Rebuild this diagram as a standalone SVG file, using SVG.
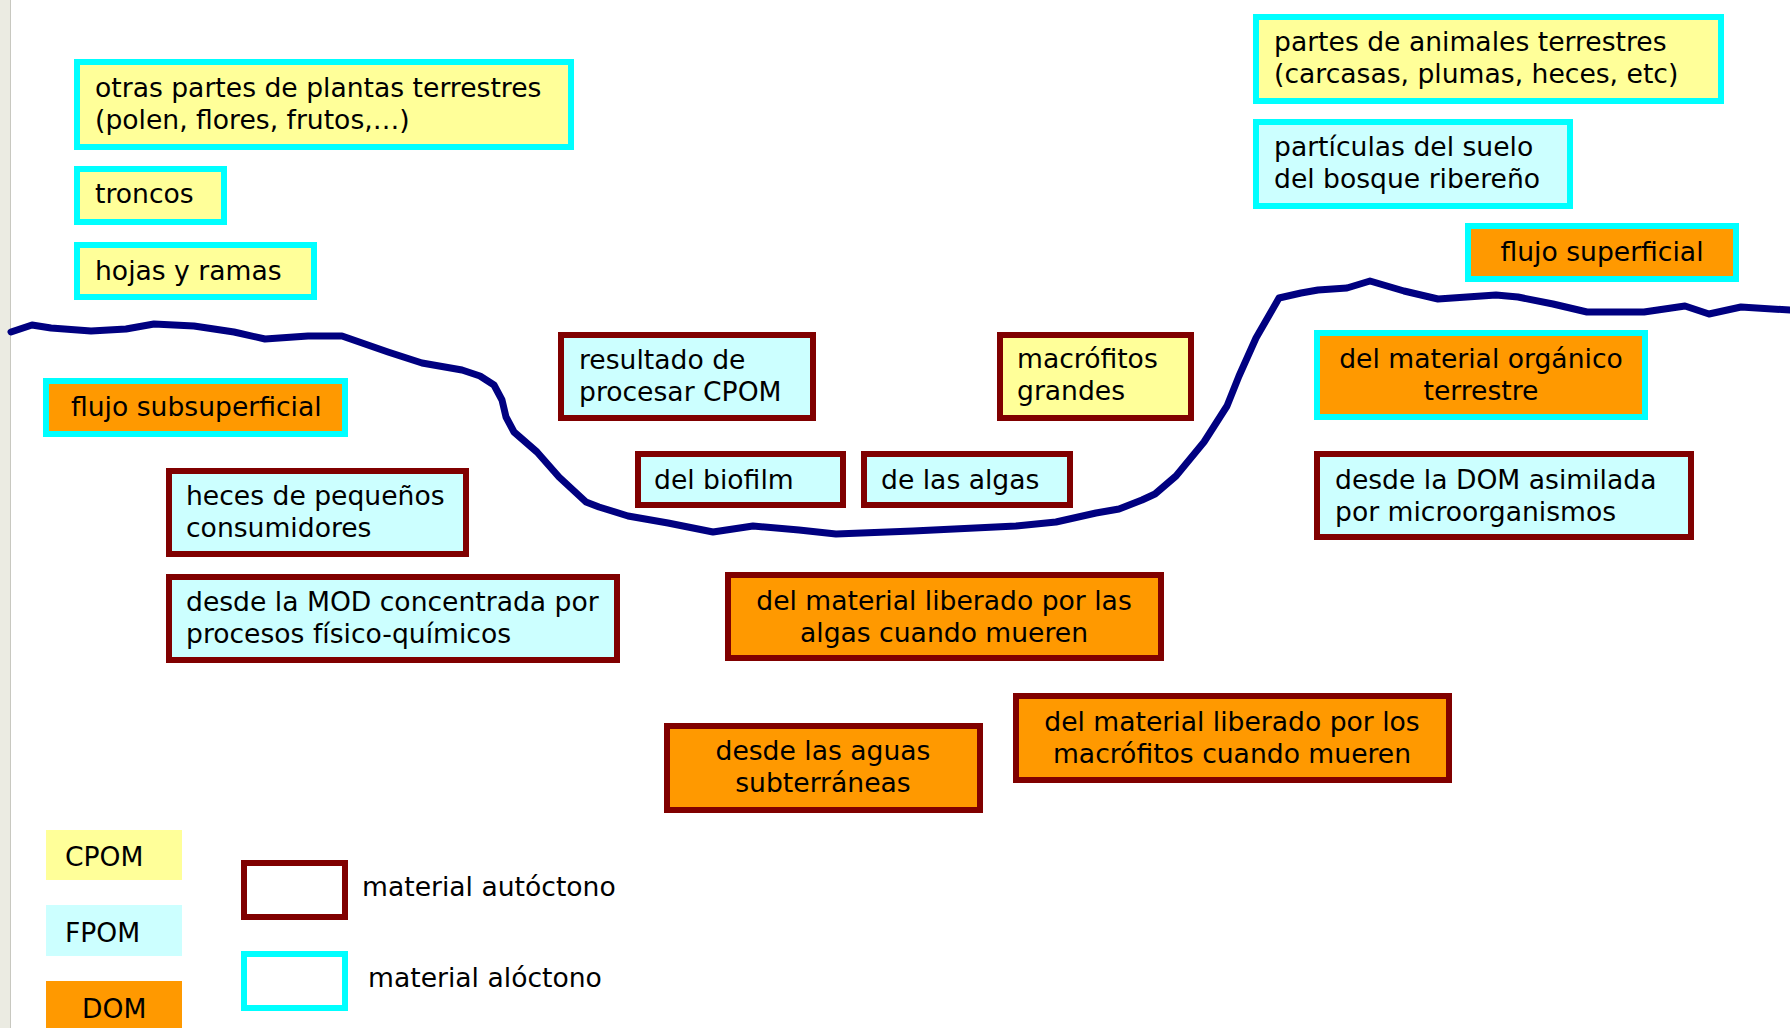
<svg xmlns="http://www.w3.org/2000/svg" width="1790" height="1028" viewBox="0 0 1790 1028">
  <style>
    text { font-family: "DejaVu Sans", Verdana, sans-serif; font-size: 26.6px; fill: #000; }
    .mid { text-anchor: middle; }
    .cpom { fill: #ffff99; }
    .fpom { fill: #ccffff; }
    .dom { fill: #ff9900; }
    .none { fill: none; }
    .alo { stroke: #00ffff; stroke-width: 6; }
    .auto { stroke: #800000; stroke-width: 6; }
    .river { fill: none; stroke: #000080; stroke-width: 7; stroke-linejoin: round; stroke-linecap: round; }
  </style>

  <rect x="0" y="0" width="1790" height="1028" fill="#ffffff"/>
  <!-- window edge strip -->
  <rect x="0" y="0" width="10" height="1028" fill="#ebebe2"/>
  <line x1="10.5" y1="0" x2="10.5" y2="1028" stroke="#c8c8c0" stroke-width="1"/>

  <!-- river bed profile -->
  <g id="river">
    <path class="river" d="M11,332 L32,325 L51,328 L91,331 L126,329 L154,324 L194,326 L234,332 L265,339 L308,336 L342,336 L388,352 L422,363 L462,370 L480,376 L494,385 L502,400 L506,417 L514,432 L537,452 L559,477 L586,502 L599,507 L628,516 L668,523 L713,532 L753,526 L799,530 L836,534 L913,531 L1016,526 L1056,522 L1096,513 L1119,509 L1142,500 L1155,494 L1176,476 L1204,442 L1227,406 L1239,376 L1256,338 L1279,298 L1301,293 L1318,290 L1347,288 L1370,281 L1404,291 L1438,299 L1496,295 L1518,297 L1553,304 L1587,312 L1644,312 L1685,306 L1709,314 L1741,307 L1790,310"/>
  </g>

  <g id="connectors"/>

  <g id="n-otras-partes">
    <rect class="cpom alo" x="77" y="62" width="494" height="85"/>
    <text x="95" y="97">otras partes de plantas terrestres</text>
    <text x="95" y="129">(polen, flores, frutos,…)</text>
  </g>
  <g id="n-troncos">
    <rect class="cpom alo" x="77" y="169" width="147" height="53"/>
    <text x="95" y="203">troncos</text>
  </g>
  <g id="n-hojas">
    <rect class="cpom alo" x="77" y="245" width="237" height="52"/>
    <text x="95" y="280">hojas y ramas</text>
  </g>
  <g id="n-flujo-subsuperficial">
    <rect class="dom alo" x="46" y="381" width="299" height="53"/>
    <text x="71" y="416">flujo subsuperficial</text>
  </g>
  <g id="n-heces">
    <rect class="fpom auto" x="169" y="471" width="297" height="83"/>
    <text x="186" y="505">heces de pequeños</text>
    <text x="186" y="537">consumidores</text>
  </g>
  <g id="n-mod">
    <rect class="fpom auto" x="169" y="577" width="448" height="83"/>
    <text x="186" y="611">desde la MOD concentrada por</text>
    <text x="186" y="643">procesos físico-químicos</text>
  </g>
  <g id="n-resultado">
    <rect class="fpom auto" x="561" y="335" width="252" height="83"/>
    <text x="579" y="369">resultado de</text>
    <text x="579" y="401">procesar CPOM</text>
  </g>
  <g id="n-biofilm">
    <rect class="fpom auto" x="638" y="454" width="205" height="51"/>
    <text x="654" y="489">del biofilm</text>
  </g>
  <g id="n-algas">
    <rect class="fpom auto" x="864" y="454" width="206" height="51"/>
    <text x="881" y="489">de las algas</text>
  </g>
  <g id="n-macrofitos">
    <rect class="cpom auto" x="1000" y="335" width="191" height="83"/>
    <text x="1017" y="368">macrófitos</text>
    <text x="1017" y="400">grandes</text>
  </g>
  <g id="n-animales">
    <rect class="cpom alo" x="1256" y="17" width="465" height="84"/>
    <text x="1274" y="51">partes de animales terrestres</text>
    <text x="1274" y="83">(carcasas, plumas, heces, etc)</text>
  </g>
  <g id="n-particulas">
    <rect class="fpom alo" x="1256" y="122" width="314" height="84"/>
    <text x="1274" y="156">partículas del suelo</text>
    <text x="1274" y="188">del bosque ribereño</text>
  </g>
  <g id="n-flujo-superficial">
    <rect class="dom alo" x="1468" y="226" width="268" height="53"/>
    <text class="mid" x="1602" y="261">flujo superficial</text>
  </g>
  <g id="n-organico-terrestre">
    <rect class="dom alo" x="1317" y="333" width="328" height="84"/>
    <text class="mid" x="1481" y="368">del material orgánico</text>
    <text class="mid" x="1481" y="400">terrestre</text>
  </g>
  <g id="n-dom-asimilada">
    <rect class="fpom auto" x="1317" y="454" width="374" height="83"/>
    <text x="1335" y="489">desde la DOM asimilada</text>
    <text x="1335" y="521">por microorganismos</text>
  </g>
  <g id="n-liberado-algas">
    <rect class="dom auto" x="728" y="575" width="433" height="83"/>
    <text class="mid" x="944" y="610">del material liberado por las</text>
    <text class="mid" x="944" y="642">algas cuando mueren</text>
  </g>
  <g id="n-subterraneas">
    <rect class="dom auto" x="667" y="726" width="313" height="84"/>
    <text class="mid" x="823" y="760">desde las aguas</text>
    <text class="mid" x="823" y="792">subterráneas</text>
  </g>
  <g id="n-liberado-macrofitos">
    <rect class="dom auto" x="1016" y="696" width="433" height="84"/>
    <text class="mid" x="1232" y="731">del material liberado por los</text>
    <text class="mid" x="1232" y="763">macrófitos cuando mueren</text>
  </g>

  <!-- key -->
  <g id="legend">
    <rect class="cpom" x="46" y="830" width="136" height="50"/>
    <text x="65" y="866">CPOM</text>
    <rect class="fpom" x="46" y="905" width="136" height="51"/>
    <text x="65" y="942">FPOM</text>
    <rect class="dom" x="46" y="981" width="136" height="47"/>
    <text x="82" y="1018">DOM</text>
    <rect class="none auto" x="244" y="863" width="101" height="54"/>
    <text x="362" y="896">material autóctono</text>
    <rect class="none alo" x="244" y="954" width="101" height="54"/>
    <text x="368" y="987">material alóctono</text>
  </g>
</svg>
